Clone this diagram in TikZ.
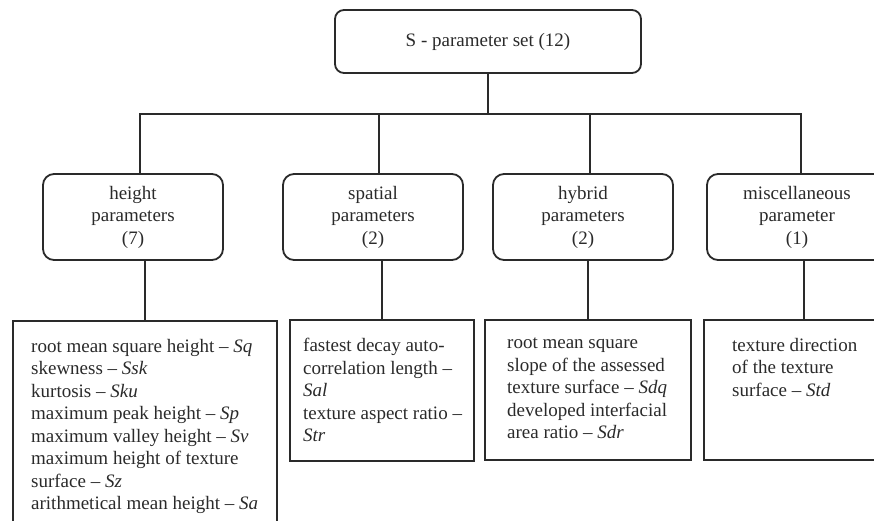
\documentclass[tikz,border=0pt]{standalone}
\usepackage{fontspec}
\setmainfont{Liberation Serif}
\definecolor{ink}{HTML}{2A2A2A}
\tikzset{
  setbox/.style={draw=ink,line width=1.8pt,rounded corners=9pt,minimum width=306pt,minimum height=63pt},
  groupbox/.style={draw=ink,line width=1.8pt,rounded corners=11pt,minimum width=180pt,minimum height=86pt,align=center},
  leafbox/.style={draw=ink,line width=1.8pt,anchor=north west},
  leaftext/.style={anchor=north west,align=left,inner sep=0pt},
  link/.style={draw=ink,line width=1.8pt}
}
\begin{document}
\begin{tikzpicture}[x=1pt,y=1pt,text=ink,font=\fontsize{19pt}{22.5pt}\selectfont]
\useasboundingbox (0,0) rectangle (874,-520);
\clip (0,0) rectangle (874,-520);
% top and groups
\node[setbox] (set) at (488,-41.5) {S - parameter set (12)};
\node[groupbox] (hp) at (133,-217) {height\\parameters\\(7)};
\node[groupbox] (sp) at (373,-217) {spatial\\parameters\\(2)};
\node[groupbox] (hy) at (583,-217) {hybrid\\parameters\\(2)};
\node[groupbox] (mi) at (797,-217) {miscellaneous\\parameter\\(1)};
% lists
\node[leafbox,minimum width=264pt,minimum height=240pt] (hpl) at (12,-320) {};
\node[leafbox,minimum width=184pt,minimum height=141pt] (spl) at (289,-319) {};
\node[leafbox,minimum width=206pt,minimum height=140pt] (hyl) at (484,-319) {};
\node[leafbox,minimum width=200pt,minimum height=140pt] (mil) at (703,-319) {};
\node[leaftext] (hpt) at ([xshift=19,yshift=-19]hpl.north west) {root mean square height – \textit{Sq}\\skewness – \textit{Ssk}\\kurtosis – \textit{Sku}\\maximum peak height – \textit{Sp}\\maximum valley height – \textit{Sv}\\maximum height of texture\\surface – \textit{Sz}\\arithmetical mean height – \textit{Sa}};
\node[leaftext] (spt) at ([xshift=14,yshift=-19]spl.north west) {fastest decay auto-\\correlation length –\\\textit{Sal}\\texture aspect ratio –\\\textit{Str}};
\node[leaftext] (hyt) at ([xshift=23,yshift=-19]hyl.north west) {root mean square\\slope of the assessed\\texture surface – \textit{Sdq}\\developed interfacial\\area ratio – \textit{Sdr}};
\node[leaftext] (mit) at ([xshift=29,yshift=-19]mil.north west) {texture direction\\of the texture\\surface – \textit{Std}};
% tree lines
\draw[link] (set.south) -- ++(0,-40) coordinate (bus);
\draw[link] ([xshift=7]hp.north) |- (bus) -| ([xshift=4]mi.north);
\draw[link] ([xshift=6]sp.north) -- ([xshift=6]sp.north |- bus);
\draw[link] ([xshift=7]hy.north) -- ([xshift=7]hy.north |- bus);
\draw[link] (hpl.north |- hp.south) -- (hpl.north);
\draw[link] (spl.north |- sp.south) -- (spl.north);
\draw[link] (hyl.north |- hy.south) -- (hyl.north);
\draw[link] (mil.north |- mi.south) -- (mil.north);
\end{tikzpicture}
\end{document}
